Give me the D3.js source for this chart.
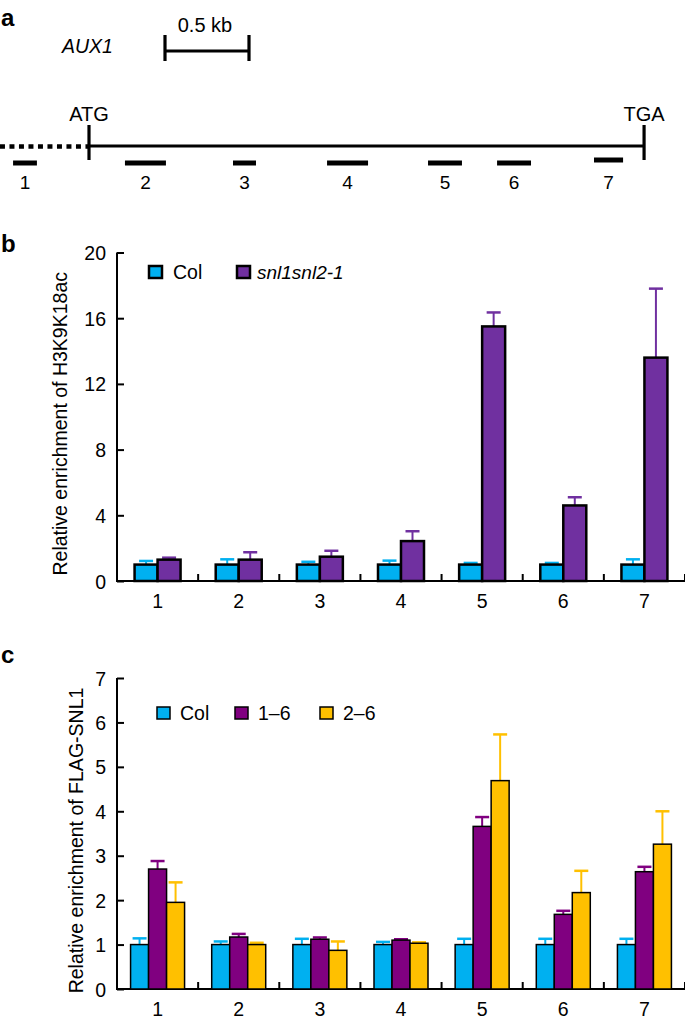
<!DOCTYPE html>
<html>
<head>
<meta charset="utf-8">
<script src="https://cdn.jsdelivr.net/npm/d3@7"></script>
<style>
  body { margin: 0; background: #fff; }
  text { font-family: "Liberation Sans", Arial, Helvetica, sans-serif; fill: #000; }
</style>
</head>
<body>
<div id="chart"></div>
<script>
var width = 685,
  height = 1021;

// panel a: gene model (positions in bp relative to ATG)
var upstreamStart = -530;
var geneEnd = 3304;
var scaleBarLength = 500;
var primerNames = ["1", "2", "3", "4", "5", "6", "7"];
var primerStart = [-452, 214, 857, 1417, 2018, 2429, 3006];
var primerEnd = [-310, 458, 994, 1661, 2220, 2631, 3179];

// panel b: H3K9K18ac
var regions = ["1", "2", "3", "4", "5", "6", "7"];
var colB = [1.0, 1.0, 1.0, 1.0, 1.0, 1.0, 1.0];
var colBErr = [0.22, 0.32, 0.17, 0.24, 0.1, 0.1, 0.32];
var snlB = [1.3, 1.3, 1.48, 2.43, 15.5, 4.6, 13.6];
var snlBErr = [0.12, 0.45, 0.36, 0.6, 0.85, 0.5, 4.2];
var yTicksB = [0, 4, 8, 12, 16, 20];

// panel c: FLAG-SNL1
var colC = [1.0, 1.0, 1.0, 1.0, 1.0, 1.0, 1.0];
var colCErr = [0.14, 0.07, 0.13, 0.06, 0.13, 0.13, 0.13];
var l16C = [2.7, 1.17, 1.12, 1.1, 3.66, 1.68, 2.64];
var l16CErr = [0.18, 0.07, 0.04, 0.02, 0.21, 0.08, 0.11];
var l26C = [1.95, 1.0, 0.87, 1.03, 4.69, 2.17, 3.26];
var l26CErr = [0.45, 0.04, 0.2, 0.02, 1.04, 0.49, 0.74];
var yTicksC = [0, 1, 2, 3, 4, 5, 6, 7];

var svg = d3.select("#chart").append("svg")
  .attr("width", width)
  .attr("height", height);

// ---------- panel a ----------
var xa = d3.scaleLinear().domain([0, 1000]).range([89, 257]);
var ga = svg.append("g");

ga.append("text").attr("x", 1).attr("y", 26)
  .style("font-size", "24px").style("font-weight", "bold").text("a");
ga.append("text").attr("x", 62).attr("y", 53)
  .style("font-size", "19.5px").style("font-style", "italic").text("AUX1");

// scale bar
var sbX0 = xa(0) + 76, sbX1 = sbX0 + (xa(scaleBarLength) - xa(0));
ga.append("path")
  .attr("d", "M" + sbX0 + ",35V61M" + sbX0 + ",51H" + sbX1 + "M" + sbX1 + ",35V61")
  .attr("stroke", "#000").attr("stroke-width", 3.2).attr("fill", "none");
ga.append("text").attr("x", (sbX0 + sbX1) / 2 - 2).attr("y", 32)
  .attr("text-anchor", "middle").style("font-size", "20px").text("0.5 kb");

// gene line
ga.append("line")
  .attr("x1", xa(upstreamStart)).attr("x2", xa(0))
  .attr("y1", 146.5).attr("y2", 146.5)
  .attr("stroke", "#000").attr("stroke-width", 4.5)
  .attr("stroke-dasharray", "5,4.5");
ga.append("line")
  .attr("x1", xa(0)).attr("x2", xa(geneEnd))
  .attr("y1", 146).attr("y2", 146)
  .attr("stroke", "#000").attr("stroke-width", 3.2);
[0, geneEnd].forEach(function(p) {
  ga.append("line")
    .attr("x1", xa(p)).attr("x2", xa(p))
    .attr("y1", 125).attr("y2", 160)
    .attr("stroke", "#000").attr("stroke-width", 3.2);
});
ga.append("text").attr("x", xa(0)).attr("y", 121)
  .attr("text-anchor", "middle").style("font-size", "20px").text("ATG");
ga.append("text").attr("x", xa(geneEnd)).attr("y", 121)
  .attr("text-anchor", "middle").style("font-size", "20px").text("TGA");

// primers
primerNames.forEach(function(name, i) {
  var yy = i === 6 ? 160 : 163;
  ga.append("line")
    .attr("x1", xa(primerStart[i])).attr("x2", xa(primerEnd[i]))
    .attr("y1", yy).attr("y2", yy)
    .attr("stroke", "#000").attr("stroke-width", 5);
  ga.append("text")
    .attr("x", (xa(primerStart[i]) + xa(primerEnd[i])) / 2)
    .attr("y", 189)
    .attr("text-anchor", "middle").style("font-size", "19px").text(name);
});

// ---------- bar chart helper ----------
function drawBars(opts) {
  var g = svg.append("g");
  var x = d3.scaleBand().domain(regions).range([117, 685]).padding(0);
  var y = d3.scaleLinear().domain(opts.domain).range([opts.bottom, opts.top]);
  var n = opts.series.length;
  var groupW = opts.barW * n;

  // y axis
  var yAxis = d3.axisLeft(y).tickValues(opts.ticks).tickSize(-7).tickPadding(11)
    .tickFormat(d3.format("d"));
  var ya = g.append("g").attr("transform", "translate(117,0)").call(yAxis);
  ya.select(".domain").attr("stroke-width", 2).attr("d", "M0," + opts.top + "V" + opts.bottom);
  ya.selectAll(".tick line").attr("stroke-width", 2);
  ya.selectAll(".tick text")
    .style("font-family", '"Liberation Sans", Arial, sans-serif')
    .style("font-size", "19.5px").attr("dy", "0.36em");

  // x axis line + separators
  g.append("line").attr("x1", 116).attr("x2", 685)
    .attr("y1", opts.bottom).attr("y2", opts.bottom)
    .attr("stroke", "#000").attr("stroke-width", 2);
  regions.forEach(function(r) {
    var xe = x(r) + x.bandwidth();
    g.append("line").attr("x1", xe).attr("x2", xe)
      .attr("y1", opts.bottom).attr("y2", opts.bottom - 7)
      .attr("stroke", "#000").attr("stroke-width", 2);
    g.append("text").attr("x", x(r) + x.bandwidth() / 2)
      .attr("y", opts.bottom + 27)
      .attr("text-anchor", "middle").style("font-size", "19.5px").text(r);
  });

  // bars
  opts.series.forEach(function(s, k) {
    var sg = g.append("g");
    var bx = function(i) { return x(regions[i]) + x.bandwidth() / 2 - groupW / 2 + k * opts.barW; };
    sg.selectAll("line.err").data(s.values).enter().append("line")
      .attr("class", "err")
      .attr("x1", function(d, i) { return bx(i) + opts.barW / 2; })
      .attr("x2", function(d, i) { return bx(i) + opts.barW / 2; })
      .attr("y1", function(d) { return y(d); })
      .attr("y2", function(d, i) { return y(d + s.err[i]); })
      .attr("stroke", s.color).attr("stroke-width", opts.errW);
    sg.selectAll("line.cap").data(s.values).enter().append("line")
      .attr("class", "cap")
      .attr("x1", function(d, i) { return bx(i) + opts.barW / 2 - 7; })
      .attr("x2", function(d, i) { return bx(i) + opts.barW / 2 + 7; })
      .attr("y1", function(d, i) { return y(d + s.err[i]); })
      .attr("y2", function(d, i) { return y(d + s.err[i]); })
      .attr("stroke", s.color).attr("stroke-width", opts.errW + 0.5);
    sg.selectAll("rect").data(s.values).enter().append("rect")
      .attr("x", function(d, i) { return bx(i); })
      .attr("y", function(d) { return y(d); })
      .attr("width", opts.barW)
      .attr("height", function(d) { return opts.bottom - y(d); })
      .attr("fill", s.color)
      .attr("stroke", "#000").attr("stroke-width", opts.barStroke);
  });

  // legend
  opts.series.forEach(function(s, k) {
    var lx = opts.legendX[k];
    g.append("rect").attr("x", lx).attr("y", opts.legendY - 12)
      .attr("width", 13).attr("height", 12)
      .attr("fill", s.color).attr("stroke", "#000").attr("stroke-width", opts.barStroke);
    g.append("text").attr("x", lx + (s.italic ? 20 : opts.legendGap)).attr("y", opts.legendY + 1)
      .style("font-size", s.italic ? "19px" : "19.5px")
      .style("font-style", s.italic ? "italic" : "normal")
      .text(s.name);
  });

  // y label
  g.append("text")
    .attr("transform", "translate(" + opts.labelX + "," + ((opts.top + opts.bottom) / 2 + 7) + ") rotate(-90)")
    .attr("text-anchor", "middle").style("font-size", "19.5px").text(opts.yLabel);

  // panel letter
  g.append("text").attr("x", 1).attr("y", opts.letterY)
    .style("font-size", "24px").style("font-weight", "bold").text(opts.letter);
}

drawBars({
  letter: "b", letterY: 252,
  domain: [0, 20], top: 252.5, bottom: 581, ticks: yTicksB,
  barW: 23, barStroke: 2.5, errW: 2,
  yLabel: "Relative enrichment of H3K9K18ac", labelX: 67,
  legendX: [149, 237], legendY: 278, legendGap: 24,
  series: [
    { name: "Col", values: colB, err: colBErr, color: "#00B0F0" },
    { name: "snl1snl2-1", values: snlB, err: snlBErr, color: "#7030A0", italic: true }
  ]
});

drawBars({
  letter: "c", letterY: 663,
  domain: [0, 7], top: 678, bottom: 989, ticks: yTicksC,
  barW: 18, barStroke: 1.5, errW: 2,
  yLabel: "Relative enrichment of FLAG-SNL1", labelX: 83,
  legendX: [157, 235, 320], legendY: 719, legendGap: 23,
  series: [
    { name: "Col", values: colC, err: colCErr, color: "#00B0F0" },
    { name: "1\u20136", values: l16C, err: l16CErr, color: "#800080" },
    { name: "2\u20136", values: l26C, err: l26CErr, color: "#FFC000" }
  ]
});
</script>
</body>
</html>
